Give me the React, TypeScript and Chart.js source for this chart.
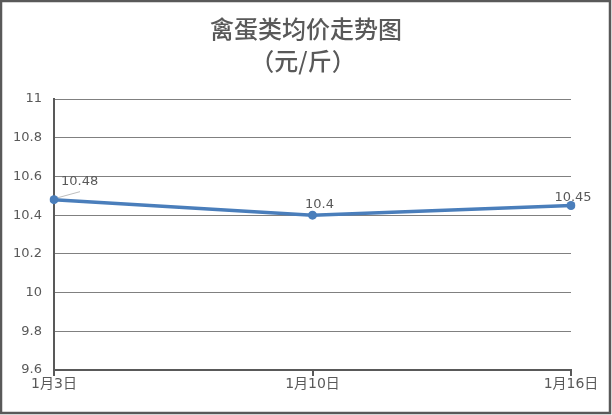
import React, { useEffect, useRef } from "react";
import { Chart, registerables } from "chart.js";

Chart.register(...registerables);

const titleLines = ["禽蛋类均价走势图", "（元/斤）"];
const categories = ["1月3日", "1月10日", "1月16日"];
const prices = [10.48, 10.4, 10.45];
const yMin = 9.6;
const yMax = 11;
const yStep = 0.2;

const TEXT = "#595959";
const FONT = "'Noto Sans CJK SC', 'Noto Sans', sans-serif";
const NUMFONT = "'DejaVu Sans', 'Noto Sans CJK SC', sans-serif";

const framePlugin = {
  id: "frame",
  beforeDraw(chart: any) {
    const ctx = chart.ctx;
    ctx.save();
    ctx.fillStyle = "#ffffff";
    ctx.fillRect(0, 0, chart.width, chart.height);
    ctx.strokeStyle = "#595959";
    ctx.lineWidth = 2.5;
    ctx.strokeRect(1, 1, chart.width - 3, chart.height - 3);
    ctx.fillStyle = TEXT;
    ctx.font = `500 24px ${FONT}`;
    ctx.textAlign = "center";
    ctx.textBaseline = "middle";
    ctx.fillText(titleLines[0], 306, 29);
    ctx.fillText(titleLines[1], 303, 61);
    ctx.restore();
  },
  afterDatasetsDraw(chart: any) {
    const ctx = chart.ctx;
    const meta = chart.getDatasetMeta(0);
    ctx.save();
    ctx.font = `13px ${NUMFONT}`;
    ctx.fillStyle = TEXT;
    ctx.textBaseline = "middle";
    meta.data.forEach((pt: any, i: number) => {
      const label = String(prices[i]);
      if (i === 0) {
        ctx.strokeStyle = "#bfbfbf";
        ctx.lineWidth = 1;
        ctx.beginPath();
        ctx.moveTo(pt.x + 4, pt.y - 2);
        ctx.lineTo(pt.x + 26, pt.y - 8);
        ctx.stroke();
        ctx.textAlign = "left";
        ctx.fillText(label, pt.x + 7, pt.y - 18);
      } else if (i === prices.length - 1) {
        ctx.textAlign = "center";
        ctx.fillText(label, pt.x + 2, pt.y - 8);
      } else {
        ctx.textAlign = "center";
        ctx.fillText(label, pt.x + 7, pt.y - 11);
      }
    });
    ctx.restore();
  },
};

export default function App() {
  const ref = useRef<HTMLCanvasElement>(null);
  useEffect(() => {
    document.body.style.margin = "0";
    const chart = new Chart(ref.current!, {
      type: "line",
      data: {
        labels: categories,
        datasets: [
          {
            data: prices,
            borderColor: "#4a7ebb",
            backgroundColor: "#4a7ebb",
            borderWidth: 3.5,
            pointRadius: 4.5,
            pointBackgroundColor: "#4a7ebb",
            pointBorderWidth: 0,
            tension: 0,
          },
        ],
      },
      options: {
        responsive: false,
        animation: false,
        devicePixelRatio: 1,
        layout: { padding: { top: 99, left: 0, right: 41, bottom: 0 } },
        plugins: { legend: { display: false }, tooltip: { enabled: false }, title: { display: false } },
        scales: {
          x: {
            offset: false,
            grid: { display: true, drawOnChartArea: false, drawTicks: true, tickLength: 6, color: "#595959", lineWidth: 2 },
            border: { display: true, color: "#595959", width: 2 },
            ticks: { color: TEXT, font: { size: 14, family: NUMFONT }, padding: 0, maxRotation: 0, autoSkip: false },
            afterFit: (s: any) => { s.height = 45; },
          },
          y: {
            min: yMin,
            max: yMax,
            grid: { color: "#808080", lineWidth: 1, drawTicks: false },
            border: { display: true, color: "#595959", width: 2 },
            ticks: {
              stepSize: yStep,
              color: TEXT,
              font: { size: 13, family: NUMFONT },
              padding: 12,
              callback: (v: any) => String(Math.round(Number(v) * 10) / 10),
            },
            afterFit: (s: any) => { s.width = 54; },
          },
        },
      },
      plugins: [framePlugin],
    });
    return () => chart.destroy();
  }, []);
  return <canvas ref={ref} width={612} height={415} style={{ display: "block" }} />;
}
